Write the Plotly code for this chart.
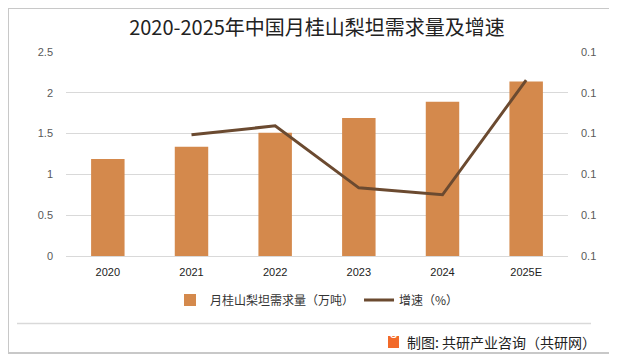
import plotly.graph_objects as go

years = ["2020", "2021", "2022", "2023", "2024", "2025E"]
demand = [1.19, 1.34, 1.51, 1.69, 1.89, 2.14]
growth_years = ["2021", "2022", "2023", "2024", "2025E"]
growth = [0.1297, 0.1319, 0.1167, 0.1150, 0.1431]
left_ticks = [0, 0.5, 1, 1.5, 2, 2.5]
left_tick_text = ["0", "0.5", "1", "1.5", "2", "2.5"]
right_ticks = [0.10, 0.11, 0.12, 0.13, 0.14, 0.15]
right_tick_text = ["0.1", "0.1", "0.1", "0.1", "0.1", "0.1"]

# page body has an 8px default margin; work in reference-pixel coordinates
OFF = 8
W, H = 617 - OFF, 359 - OFF
L, R, T, B = 66, 568, 52, 256  # plot area in reference pixels


def px(x):
    return (x - L) / (R - L)


def py(y):
    return (B - y) / (B - T)


fig = go.Figure()
fig.add_trace(go.Bar(
    x=years, y=demand, name="月桂山梨坦需求量（万吨）",
    marker=dict(color="#D4894C", line=dict(width=0)), width=0.4,
))
fig.add_trace(go.Scatter(
    x=growth_years, y=growth, name="增速（%）", yaxis="y2", mode="lines",
    line=dict(color="#6B4A30", width=3),
))

font_cjk = "Noto Sans CJK SC, Noto Sans, sans-serif"

fig.update_layout(
    width=W, height=H,
    margin=dict(l=L - OFF, r=617 - R, t=T - OFF, b=359 - B, autoexpand=False),
    paper_bgcolor="white", plot_bgcolor="white",
    font=dict(family=font_cjk, size=11, color="#595959"),
    title=dict(text="2020-2025年中国月桂山梨坦需求量及增速", x=0.5, xref="paper",
               y=1 - (28 - OFF) / H, yanchor="middle", xanchor="center",
               font=dict(family=font_cjk, size=20, color="#222222")),
    showlegend=True,
    legend=dict(orientation="h", x=0.5, xanchor="center", y=py(300), yanchor="middle",
                font=dict(family=font_cjk, size=12, color="#333333"),
                itemwidth=30, bgcolor="rgba(0,0,0,0)"),
    xaxis=dict(type="category", showgrid=False, showline=True, linecolor="#D9D9D9",
               linewidth=1, ticks="", automargin=False,
               tickfont=dict(color="#222222", size=11,
                             family="Liberation Sans, Arial, sans-serif"),
               ticklabelstandoff=6, fixedrange=True),
    yaxis=dict(range=[0, 2.5], tickvals=left_ticks, ticktext=left_tick_text,
               showgrid=True, gridcolor="#D9D9D9", gridwidth=1, zeroline=False,
               showline=False, ticks="", ticklabelstandoff=12, automargin=False,
               tickfont=dict(color="#595959", size=11,
                             family="Liberation Sans, Arial, sans-serif")),
    yaxis2=dict(range=[0.10, 0.15], tickvals=right_ticks, ticktext=right_tick_text,
                overlaying="y", side="right", showgrid=False, zeroline=False,
                showline=False, ticks="", ticklabelstandoff=12, automargin=False,
                tickfont=dict(color="#595959", size=11,
                              family="Liberation Sans, Arial, sans-serif")),
)

frame_color = "#C8C8C8"
shapes = [
    dict(type="rect", xref="paper", yref="paper", x0=px(8), x1=px(610),
         y0=py(353), y1=py(8), line=dict(color=frame_color, width=2),
         fillcolor="rgba(0,0,0,0)", layer="above"),
    dict(type="line", xref="paper", yref="paper", x0=px(17), x1=px(591),
         y0=py(323.5), y1=py(323.5), line=dict(color="#D9D9D9", width=1.5)),
    dict(type="rect", xref="paper", yref="paper", x0=px(388), x1=px(399),
         y0=py(348), y1=py(336), line=dict(width=0), fillcolor="#F26A2A"),
]
fig.update_layout(shapes=shapes)

fig.add_annotation(x=px(393.5), y=py(342), xref="paper", yref="paper",
                   text="<b>G</b>", showarrow=False,
                   font=dict(size=9, color="white", family="Liberation Sans, Arial"))
fig.add_annotation(x=px(405), y=py(342), xref="paper", yref="paper", xanchor="left",
                   yanchor="middle", text="制图: 共研产业咨询（共研网）", showarrow=False,
                   font=dict(size=14, color="#222222", family=font_cjk))

fig.write_html("out.html")
